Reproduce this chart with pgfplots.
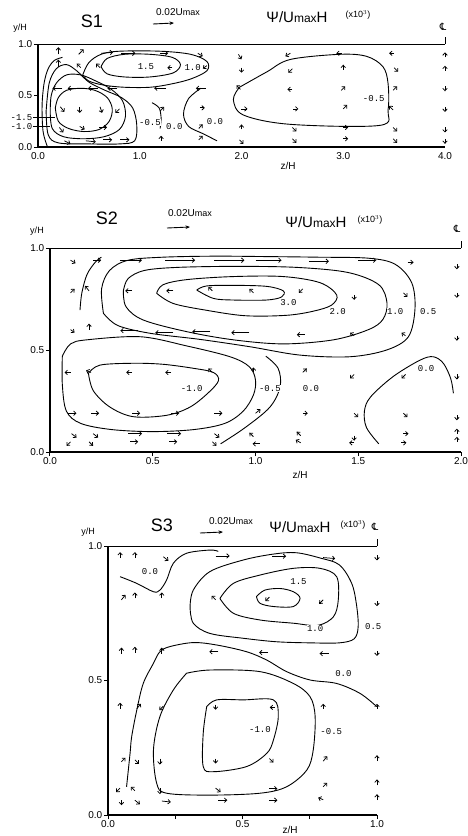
\documentclass[border=0pt]{standalone}
\usepackage{pgfplots}
\pgfplotsset{compat=1.18}
\usepackage{fontspec}
\setmainfont{Liberation Sans}
\newfontfamily\djv{DejaVu Sans}
\newfontfamily\mono{Liberation Mono}
\usetikzlibrary{arrows.meta}

\newcommand\fs[1]{\fontsize{#1}{#1}\selectfont}
\newcommand\CL{{\djv\fs{10}℄}}
\newcommand\Psititle{{\fs{15}Ψ/U{\fs{12}max}H}}
\newcommand\scaletxt{{\fs{10}0.02U{\fs{9}max}}}
\newcommand\xten{{\fs{9}(x10$^{3}$)}}

\tikzset{clab/.style={font=\mono\fs{9}, fill=white, inner sep=0.5pt}}
\pgfplotsset{
  panel/.style={
    scale only axis, clip=false,
    axis x line*=bottom, axis y line*=left,
    axis line style={line width=1.6pt},
    tick align=outside, tick style={line width=1pt, black},
    major tick length=4pt,
    ymin=0, ymax=1, ytick={0,0.5,1}, yticklabels={0.0,0.5,1.0},
    ticklabel style={font=\fs{10}, inner sep=1.5pt},
    anchor=south west,
  },
  cont/.style={black, line width=0.9pt, smooth, tension=0.55, mark=none},
  vec/.style={black, line width=0.75pt, -{Straight Barb[length=2.4pt,width=4.5pt]}, mark=none},
}

\begin{document}
\begin{tikzpicture}
\useasboundingbox (0pt,0pt) rectangle (468pt,-836pt);

%================ S1 =================
\begin{axis}[panel, at={(38pt,-147pt)}, width=407pt, height=103pt,
  xmin=0, xmax=4, xtick={0,1,2,3,4}, xticklabels={0.0,1.0,2.0,3.0,4.0},
  xtick style={draw=none}]
\draw[line width=0.8pt] (axis cs:0,1) -- (axis cs:4,1);
\draw[line width=0.8pt] (axis cs:4,1) -- (axis cs:4,1.07);
\addplot[cont] coordinates {(0.17,0.38) (0.2,0.25) (0.3,0.18) (0.45,0.15) (0.6,0.17) (0.7,0.25) (0.73,0.37) (0.68,0.48) (0.56,0.55) (0.42,0.57) (0.28,0.55) (0.2,0.48) (0.17,0.38)};
\addplot[cont] coordinates {(0.12,0.35) (0.14,0.18) (0.25,0.1) (0.45,0.08) (0.65,0.1) (0.8,0.17) (0.86,0.3) (0.83,0.45) (0.72,0.56) (0.57,0.64) (0.42,0.7) (0.28,0.7) (0.18,0.62) (0.13,0.5) (0.12,0.35)};
\addplot[cont] coordinates {(0.08,0.35) (0.1,0.12) (0.2,0.04) (0.5,0.03) (0.8,0.03) (0.95,0.06) (0.97,0.22) (0.93,0.38) (0.82,0.48) (0.66,0.55) (0.5,0.63) (0.38,0.74) (0.28,0.8) (0.18,0.76) (0.11,0.62) (0.08,0.35)};
\addplot[cont] coordinates {(0.09,0.01) (0.05,0.15) (0.04,0.4) (0.06,0.62) (0.1,0.76) (0.16,0.84) (0.24,0.87)};
\addplot[cont] coordinates {(0.62,0.78) (0.68,0.86) (0.85,0.9) (1.1,0.9) (1.32,0.87) (1.4,0.8) (1.33,0.72) (1.1,0.68) (0.85,0.68) (0.68,0.71) (0.62,0.78)};
\addplot[cont] coordinates {(0.44,0.7) (0.5,0.82) (0.62,0.9) (0.8,0.93) (1.2,0.93) (1.5,0.9) (1.66,0.83) (1.66,0.74) (1.5,0.66) (1.3,0.61) (1.1,0.58) (0.85,0.58) (0.65,0.6) (0.5,0.64) (0.44,0.7)};
\addplot[cont] coordinates {(1.12,0.43) (1.19,0.38) (1.21,0.28) (1.2,0.18)};
\addplot[cont] coordinates {(1.6,0.57) (1.48,0.47) (1.43,0.32) (1.48,0.2) (1.62,0.13) (1.76,0.06)};
\addplot[cont] coordinates {(1.98,0.58) (2.25,0.73) (2.48,0.85) (2.97,0.9) (3.23,0.88) (3.39,0.78) (3.44,0.62) (3.44,0.36) (3.36,0.21) (2.48,0.22) (2.02,0.31) (1.92,0.46) (1.98,0.58)};
\addplot[vec, quiver={u=\thisrow{u}, v=\thisrow{v}, scale arrows=0.0098}] table {
x y u v
0.20 0.90 0 7
0.40 0.90 5 5
0.62 0.91 12 1
0.82 0.91 14 0
1.20 0.91 8 0
1.57 0.91 5 -3
1.97 0.90 3 -5
2.48 0.91 -5 -3
2.99 0.91 -6 0
3.50 0.91 -5 0
4.00 0.87 0 5
0.20 0.78 0 7
0.42 0.77 -4 4
0.61 0.77 -4 4
1.08 0.77 -5 0
1.32 0.77 -5 0
1.66 0.79 -4 -3
2.00 0.77 0 -5
2.50 0.76 -4 -4
3.00 0.75 0 5
3.50 0.77 4 -4
4.00 0.74 0 5
0.24 0.57 -10 0
0.39 0.57 -10 0
0.59 0.57 -10 0
0.78 0.57 -10 0
1.26 0.57 -12 0
1.65 0.57 -10 0
1.99 0.56 -4 4
2.50 0.56 -5 0
2.98 0.55 4 4
3.49 0.55 4 4
4.00 0.59 0 -5
0.22 0.39 4 -5
0.41 0.39 0 -6
0.61 0.39 2 -6
0.80 0.37 -4 -4
1.20 0.35 4 4
1.59 0.38 5 0
2.00 0.37 6 0
2.51 0.37 5 0
3.00 0.37 4 4
3.49 0.36 -4 4
4.00 0.39 0 -5
0.21 0.19 4 -5
0.41 0.20 5 -3
0.60 0.19 8 0
1.58 0.18 4 4
2.00 0.17 0 5
2.50 0.19 4 -4
3.00 0.19 5 0
3.49 0.19 4 -4
4.00 0.19 0 -5
0.26 0.06 6 -3
0.47 0.06 10 -1
0.64 0.07 9 0
0.81 0.07 9 0
1.21 0.06 0 5
1.58 0.07 4 4
1.98 0.07 4 -4
2.50 0.08 4 -4
3.00 0.08 5 0
3.49 0.08 4 -4
4.00 0.08 0 -5
};
\node[clab] at (axis cs:1.06,0.78) {1.5};
\node[clab] at (axis cs:1.52,0.77) {1.0};
\node[clab] at (axis cs:1.10,0.24) {-0.5};
\node[clab] at (axis cs:1.34,0.20) {0.0};
\node[clab] at (axis cs:1.74,0.25) {0.0};
\node[clab] at (axis cs:3.30,0.47) {-0.5};
\node[clab, anchor=east] at (axis cs:-0.05,0.29) {-1.5};
\node[clab, anchor=east] at (axis cs:-0.05,0.20) {-1.0};
\draw[line width=0.7pt] (axis cs:-0.05,0.29) -- (axis cs:0.17,0.29);
\draw[line width=0.7pt] (axis cs:-0.05,0.20) -- (axis cs:0.12,0.20);
\end{axis}
\node at (92pt,-21pt) {\fs{18}S1};
\node at (178pt,-12pt) {\scaletxt};
\draw[line width=0.9pt, -{Stealth[length=4.5pt,width=3.5pt]}] (153pt,-24pt) -- (174pt,-23pt);
\node at (297pt,-17pt) {\Psititle};
\node at (358pt,-15pt) {\xten};
\node at (20pt,-28pt) {\fs{9}y/H};
\node at (443pt,-27pt) {\CL};
\node at (288pt,-166pt) {\fs{10}z/H};

%================ S2 =================
\begin{axis}[panel, at={(50pt,-452pt)}, width=411pt, height=204pt,
  xmin=0, xmax=2, xtick={0,0.5,1,1.5,2}, xticklabels={0.0,0.5,1.0,1.5,2.0}]
\draw[line width=0.8pt] (axis cs:0,1) -- (axis cs:2,1);
\draw[line width=0.8pt] (axis cs:2,1) -- (axis cs:2,1.035);
\addplot[cont] coordinates {(0.714,0.794) (0.762,0.814) (0.892,0.817) (1.054,0.812) (1.135,0.79) (1.127,0.76) (1.054,0.745) (0.892,0.745) (0.795,0.753) (0.714,0.794)};
\addplot[cont] coordinates {(0.519,0.778) (0.55,0.82) (0.665,0.845) (0.892,0.86) (1.135,0.86) (1.314,0.83) (1.395,0.77) (1.37,0.72) (1.28,0.69) (1.15,0.67) (0.95,0.668) (0.76,0.695) (0.6,0.728) (0.519,0.778)};
\addplot[cont] coordinates {(0.357,0.79) (0.38,0.85) (0.46,0.89) (0.62,0.905) (0.9,0.91) (1.2,0.905) (1.45,0.88) (1.6,0.82) (1.64,0.73) (1.62,0.65) (1.55,0.6) (1.38,0.55) (1.135,0.53) (0.892,0.55) (0.665,0.59) (0.454,0.647) (0.37,0.712) (0.357,0.79)};
\addplot[cont] coordinates {(0.26,0.68) (0.251,0.8) (0.29,0.89) (0.38,0.94) (0.55,0.955) (0.8,0.96) (1.05,0.958) (1.3,0.955) (1.55,0.95) (1.68,0.92) (1.76,0.83) (1.776,0.7) (1.744,0.565) (1.638,0.5) (1.46,0.467) (1.217,0.475) (0.973,0.516) (0.73,0.552) (0.487,0.582) (0.33,0.62) (0.26,0.68)};
\addplot[cont] coordinates {(0.146,0.696) (0.155,0.78) (0.18,0.87) (0.22,0.93) (0.25,0.955)};
\addplot[cont] coordinates {(0.187,0.386) (0.243,0.426) (0.406,0.435) (0.55,0.43) (0.7,0.41) (0.795,0.39) (0.82,0.35) (0.77,0.29) (0.681,0.22) (0.568,0.18) (0.406,0.173) (0.292,0.22) (0.211,0.3) (0.187,0.386)};
\addplot[cont] coordinates {(0.06,0.47) (0.1,0.53) (0.18,0.55) (0.44,0.565) (0.665,0.52) (0.876,0.467) (0.97,0.418) (1.0,0.353) (0.99,0.28) (0.94,0.2) (0.85,0.14) (0.7,0.11) (0.5,0.1) (0.3,0.11) (0.15,0.14) (0.08,0.2) (0.06,0.33) (0.06,0.47)};
\addplot[cont] coordinates {(0.83,0.04) (0.95,0.12) (1.07,0.22) (1.12,0.32) (1.11,0.41) (1.05,0.47)};
\addplot[cont] coordinates {(1.6,0.04) (1.54,0.12) (1.53,0.2) (1.56,0.27) (1.67,0.37) (1.8,0.45) (1.865,0.467) (1.914,0.435) (1.95,0.36) (1.963,0.288)};
\addplot[vec, quiver={u=\thisrow{u}, v=\thisrow{v}, scale arrows=0.00487}] table {
x y u v
0.10 0.94 5 -3
0.21 0.94 8 0
0.34 0.94 22 0
0.56 0.94 30 0
0.80 0.94 30 0
1.00 0.94 26 0
1.26 0.935 20 0
1.50 0.94 18 0
1.74 0.93 6 0
1.98 0.92 0 -5
0.10 0.78 4 4
0.19 0.79 -4 5
0.40 0.79 -7 0
0.60 0.79 -7 0
0.79 0.79 -4 4
0.99 0.78 -4 4
1.23 0.80 -4 -4
1.48 0.77 0 -5
1.72 0.78 4 -4
1.98 0.78 0 -5
0.10 0.60 4 -3
0.19 0.60 0 6
0.43 0.595 -18 0
0.60 0.585 -18 0
0.78 0.59 -18 0
0.97 0.585 -18 0
1.24 0.575 -8 0
1.48 0.57 -4 3
1.73 0.57 -4 3
1.98 0.57 0 -5
0.10 0.39 -6 0
0.20 0.39 -5 2
0.40 0.39 -6 0
0.59 0.39 -6 0
0.79 0.39 -4 4
0.99 0.39 0 5
1.23 0.39 4 4
1.48 0.38 -4 -4
1.73 0.38 -4 -4
1.98 0.38 0 -5
0.09 0.19 8 0
0.20 0.19 8 0
0.40 0.19 8 0
0.59 0.19 8 0
0.80 0.19 8 0
1.00 0.19 5 4
1.23 0.19 5 0
1.48 0.19 4 -4
1.72 0.19 4 -4
1.98 0.18 0 -5
0.105 0.09 5 -4
0.21 0.09 5 -4
0.38 0.09 14 0
0.57 0.09 14 0
0.80 0.09 5 -4
0.99 0.075 -4 4
1.22 0.08 -4 4
1.48 0.08 0 -5
1.72 0.09 5 0
1.98 0.09 0 5
0.10 0.05 -4 -4
0.19 0.05 4 -4
0.39 0.05 8 0
0.58 0.05 8 0
0.79 0.05 4 -4
1.02 0.04 -7 0
1.22 0.045 -5 3
1.48 0.045 -5 0
1.71 0.045 5 0
1.98 0.05 0 5
};
\node[clab] at (axis cs:1.16,0.735) {3.0};
\node[clab] at (axis cs:1.40,0.69) {2.0};
\node[clab] at (axis cs:1.68,0.69) {1.0};
\node[clab] at (axis cs:1.84,0.69) {0.5};
\node[clab] at (axis cs:0.69,0.31) {-1.0};
\node[clab] at (axis cs:1.07,0.31) {-0.5};
\node[clab] at (axis cs:1.27,0.31) {0.0};
\node[clab] at (axis cs:1.83,0.41) {0.0};
\end{axis}
\node at (107pt,-218pt) {\fs{18}S2};
\node at (190pt,-213pt) {\scaletxt};
\draw[line width=0.9pt, -{Stealth[length=4.5pt,width=3.5pt]}] (167pt,-228pt) -- (190pt,-227pt);
\node at (316pt,-222pt) {\Psititle};
\node at (370pt,-220pt) {\xten};
\node at (37pt,-231pt) {\fs{9}y/H};
\node at (457pt,-229pt) {\CL};
\node at (300pt,-475pt) {\fs{10}z/H};

%================ S3 =================
\begin{axis}[panel, at={(108pt,-815pt)}, width=269pt, height=269pt,
  xmin=0, xmax=1, xtick={0,0.25,0.5,0.75,1}, xticklabels={0.0,,0.5,,1.0}]
\draw[line width=0.8pt] (axis cs:0,1) -- (axis cs:1,1);
\draw[line width=0.8pt] (axis cs:1,1) -- (axis cs:1,1.025);
\addplot[cont] coordinates {(0.045,0.886) (0.107,0.861) (0.169,0.83) (0.193,0.836) (0.218,0.874) (0.243,0.936) (0.292,0.973) (0.379,0.985) (0.41,0.98)};
\addplot[cont] coordinates {(0.305,0.774) (0.317,0.836) (0.379,0.905) (0.503,0.948) (0.615,0.97) (0.7,0.975) (0.79,0.955) (0.86,0.93) (0.906,0.861) (0.924,0.78) (0.93,0.7) (0.915,0.655) (0.86,0.64) (0.75,0.64) (0.627,0.644) (0.503,0.657) (0.379,0.675) (0.317,0.713) (0.305,0.774)};
\addplot[cont] coordinates {(0.416,0.805) (0.466,0.861) (0.565,0.892) (0.689,0.917) (0.788,0.917) (0.85,0.886) (0.856,0.799) (0.838,0.737) (0.78,0.705) (0.689,0.713) (0.565,0.725) (0.466,0.75) (0.416,0.805)};
\addplot[cont] coordinates {(0.552,0.812) (0.583,0.836) (0.64,0.842) (0.689,0.83) (0.714,0.806) (0.689,0.775) (0.615,0.775) (0.565,0.787) (0.552,0.812)};
\addplot[cont] coordinates {(0.069,0.105) (0.082,0.229) (0.088,0.291) (0.107,0.39) (0.131,0.489) (0.169,0.564) (0.193,0.607) (0.23,0.626) (0.317,0.641) (0.404,0.632) (0.515,0.607) (0.59,0.576) (0.664,0.533) (0.751,0.502) (0.85,0.489) (0.937,0.452) (0.999,0.403)};
\addplot[cont] coordinates {(0.292,0.527) (0.379,0.539) (0.565,0.533) (0.689,0.489) (0.751,0.44) (0.77,0.366) (0.763,0.242) (0.739,0.167) (0.664,0.105) (0.565,0.081) (0.379,0.074) (0.218,0.081) (0.181,0.118) (0.169,0.242) (0.193,0.366) (0.243,0.465) (0.292,0.527)};
\addplot[cont] coordinates {(0.367,0.403) (0.404,0.428) (0.503,0.428) (0.615,0.428) (0.633,0.366) (0.615,0.279) (0.59,0.229) (0.515,0.18) (0.392,0.161) (0.354,0.18) (0.354,0.304) (0.367,0.403)};
\addplot[vec, quiver={u=\thisrow{u}, v=\thisrow{v}, scale arrows=0.00372}] table {
x y u v
0.045 0.955 0 6
0.10 0.955 0 6
0.206 0.96 5 -4
0.40 0.963 14 0
0.61 0.962 14 0
0.80 0.957 12 -1
1.00 0.965 0 -5
0.05 0.80 4 5
0.10 0.805 0 6
0.20 0.805 0 6
0.40 0.80 -4 4
0.60 0.81 -4 -4
0.80 0.80 -4 -4
1.00 0.795 0 -5
0.05 0.60 0 6
0.10 0.603 0 6
0.20 0.60 0 6
0.41 0.607 -9 0
0.595 0.604 -9 0
0.82 0.60 -9 0
1.00 0.61 0 -5
0.045 0.395 0 6
0.107 0.395 4 5
0.206 0.405 -4 -4
0.40 0.41 0 -5
0.62 0.40 -5 0
0.80 0.395 0 5
1.00 0.395 0 5
0.05 0.198 4 4
0.10 0.205 4 -4
0.193 0.21 0 -6
0.40 0.21 0 -5
0.60 0.21 4 -4
0.80 0.20 4 5
1.00 0.20 0 6
0.045 0.10 -4 -4
0.10 0.09 -4 4
0.193 0.10 0 -6
0.40 0.10 5 -4
0.60 0.098 8 0
0.80 0.105 4 4
1.00 0.11 0 6
0.05 0.055 0 -5
0.10 0.055 5 -4
0.20 0.052 9 -1
0.41 0.055 9 0
0.60 0.055 8 0
0.80 0.057 -5 2
1.00 0.055 0 6
};
\node[clab] at (axis cs:0.156,0.905) {0.0};
\node[clab] at (axis cs:0.708,0.867) {1.5};
\node[clab] at (axis cs:0.77,0.694) {1.0};
\node[clab] at (axis cs:0.986,0.70) {0.5};
\node[clab] at (axis cs:0.875,0.527) {0.0};
\node[clab] at (axis cs:0.565,0.316) {-1.0};
\node[clab] at (axis cs:0.83,0.31) {-0.5};
\end{axis}
\node at (162pt,-525pt) {\fs{18}S3};
\node at (231pt,-521pt) {\scaletxt};
\draw[line width=0.9pt, -{Stealth[length=4.5pt,width=3.5pt]}] (200pt,-533pt) -- (223pt,-532pt);
\node at (300pt,-527pt) {\Psititle};
\node at (353pt,-525pt) {\xten};
\node at (375pt,-527pt) {\CL};
\node at (88pt,-532pt) {\fs{9}y/H};
\node at (290pt,-830pt) {\fs{10}z/H};
\end{tikzpicture}
\end{document}
